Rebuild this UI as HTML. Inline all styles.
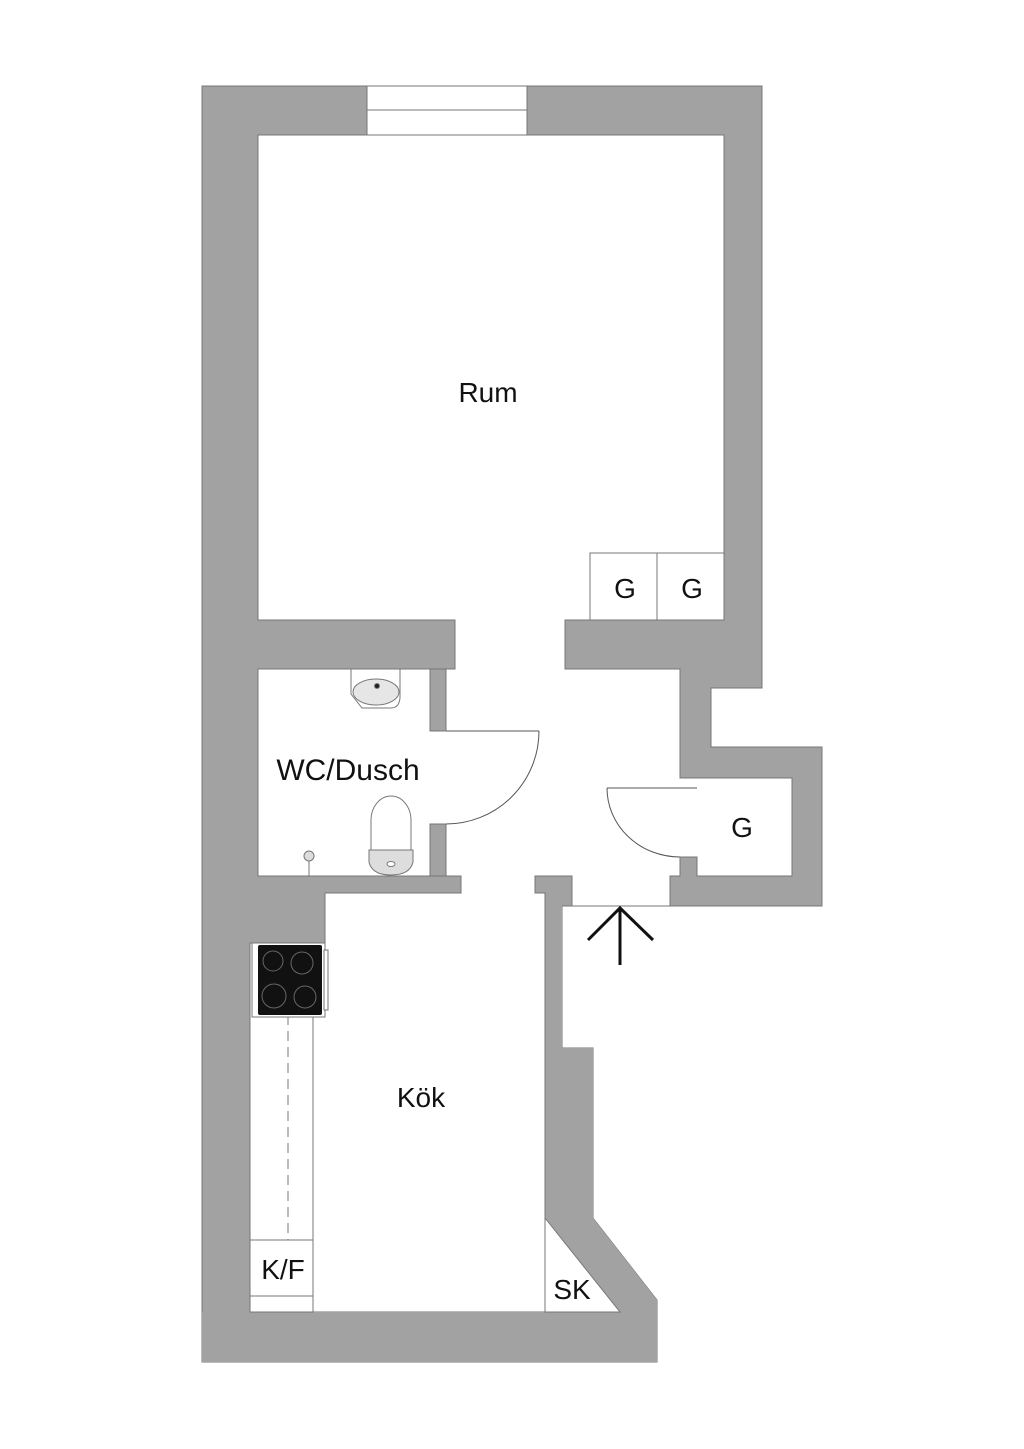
<!DOCTYPE html>
<html><head><meta charset="utf-8"><style>
html,body{margin:0;padding:0;background:#fff}
svg{display:block}
text{font-family:"Liberation Sans",sans-serif;fill:#111}
</style></head><body>
<svg width="1024" height="1449" viewBox="0 0 1024 1449" xmlns="http://www.w3.org/2000/svg">
<g fill="#a2a2a2" stroke="#777" stroke-width="1">
<path d="M202,86 H367 V135 H258 V620 H455 V669 H258 V876 H461 V893 H325 V943 H250 V1312 H545 V893 H535 V876 H572 V906 H562 V1048 H593 V1218 L657,1300 V1362 H202 Z"/>
<path d="M527,86 H762 V688 H711 V747 H822 V906 H670 V876 H680 V857 H697 V876 H792 V778 H697 V778 H680 V669 H565 V620 H724 V135 H527 Z"/>
<rect x="430" y="669" width="16" height="62"/>
<rect x="430" y="824" width="16" height="52"/>
<path d="M545,893 H562 V1048 H593 V1218 L657,1300 V1362 H545 Z" stroke="none"/>
<path d="M202,1312 H657 V1362 H202 Z" stroke="none"/>
</g>
<path d="M545,1218 L620,1312 H545 Z" fill="#fff" stroke="#777"/>
<line x1="545" y1="893" x2="545" y2="1312" stroke="#777"/>
<rect x="367" y="86" width="160" height="49" fill="#fff" stroke="#777"/>
<line x1="367" y1="110" x2="527" y2="110" stroke="#777"/>
<g fill="#fff" stroke="#777">
<rect x="590" y="553" width="67" height="67"/>
<rect x="657" y="553" width="67" height="67"/>
</g>
<g fill="none" stroke="#555" stroke-width="1">
<line x1="446" y1="731" x2="539" y2="731"/>
<path d="M539,731 A93,93 0 0 1 446,824"/>
<line x1="607" y1="788" x2="697" y2="788"/>
<path d="M607,788 A73,69 0 0 0 680,857"/>
<line x1="562" y1="906" x2="670" y2="906" stroke="#777"/>
</g>
<g stroke="#111" stroke-width="3" fill="none">
<line x1="620" y1="965" x2="620" y2="909"/>
<polyline points="588,940 620,908 653,940"/>
</g>
<g stroke="#777" fill="#fff">
<path d="M351,669 V694 L362,708 H391 Q399,708 400,698 V669 Z"/>
<ellipse cx="376" cy="692" rx="23" ry="13" fill="#e6e6e6"/>
<circle cx="377" cy="686" r="2.5" fill="#222"/>
</g>
<g stroke="#777" fill="#fff">
<path d="M371,850 V820 A20,24 0 0 1 411,820 V850 Z"/>
<path d="M369,850 H413 V862 Q410,875 391,875 Q372,875 369,862 Z" fill="#ddd"/>
<ellipse cx="391" cy="864" rx="4" ry="2.5"/>
<circle cx="309" cy="856" r="5" fill="#ddd"/>
<line x1="309" y1="861" x2="309" y2="876"/>
</g>
<g stroke="#777" fill="#fff">
<rect x="250" y="943" width="63" height="369"/>
<line x1="250" y1="1240" x2="313" y2="1240"/>
<line x1="250" y1="1296" x2="313" y2="1296"/>
</g>
<line x1="288" y1="1015" x2="288" y2="1240" stroke="#777" stroke-dasharray="10,6"/>
<rect x="252" y="943" width="73" height="74" fill="#fff" stroke="#777"/>
<rect x="258" y="945" width="64" height="70" rx="2" fill="#111"/>
<g fill="none" stroke="#666">
<circle cx="273" cy="961" r="10"/><circle cx="302" cy="963" r="11"/>
<circle cx="274" cy="996" r="12"/><circle cx="305" cy="997" r="11"/>
</g>
<rect x="324" y="950" width="4" height="60" fill="#fff" stroke="#777"/>
<g font-size="28" text-anchor="middle">
<text x="488" y="402">Rum</text>
<text x="348" y="780" font-size="30">WC/Dusch</text>
<text x="625" y="598">G</text>
<text x="692" y="598">G</text>
<text x="742" y="837">G</text>
<text x="421" y="1107">Kök</text>
<text x="283" y="1279">K/F</text>
<text x="572" y="1299">SK</text>
</g>
</svg>
</body></html>
